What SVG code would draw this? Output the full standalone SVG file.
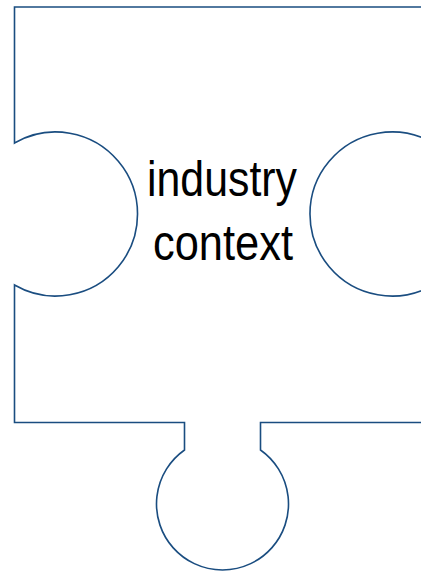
<svg xmlns="http://www.w3.org/2000/svg" width="421" height="574" viewBox="0 0 421 574">
<style>
.piece{fill:#ffffff;stroke:#1a4d80;stroke-width:1.6;stroke-linejoin:miter}
.lbl{font-family:"Liberation Sans",Arial,sans-serif;font-size:50px;fill:#000000}
</style>
<rect width="421" height="574" fill="#ffffff"/>
<g id="puzzle-piece">
<path class="piece" d="M14.5,7 L433,7 L433,143 A82,82 0 1 0 433,285 L433,422.5 L260.5,422.5 L260.5,450 A66,66 0 1 1 184.5,450 L184.5,422.5 L14.5,422.5 L14.5,285 A82,82 0 1 0 14.5,143 Z"/>
<text class="lbl" x="147" y="196" textLength="150" lengthAdjust="spacingAndGlyphs">industry</text>
<text class="lbl" x="153" y="260" textLength="140" lengthAdjust="spacingAndGlyphs">context</text>
</g>
<g id="connectors"></g>
</svg>
